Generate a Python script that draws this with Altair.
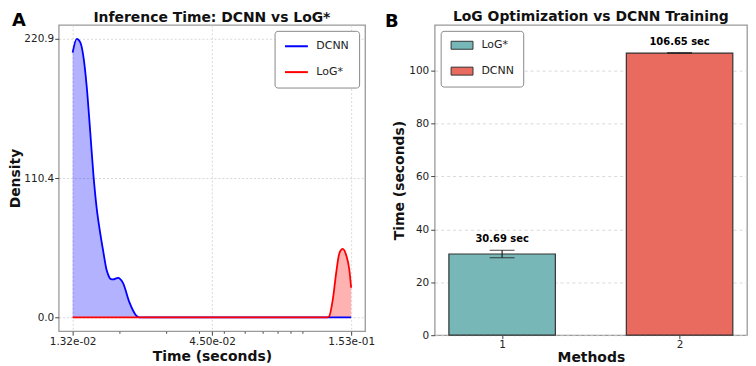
import altair as alt
import pandas as pd

FONT = "DejaVu Sans"

# ---------------- Panel A: density curves
series_names = ["DCNN", "LoG*"]
series_colors = ["#0000ff", "#ff0000"]

dcnn_time = [0.01320, 0.01368, 0.01412, 0.01453, 0.01495, 0.01540, 0.01585,
             0.01630, 0.01679, 0.01728, 0.01778, 0.01804, 0.01841, 0.01884,
             0.01967, 0.02055, 0.02178, 0.02305, 0.02374, 0.15300]
dcnn_density = [209.9, 220.9, 218.0, 206.0, 182.5, 148.0, 113.0,
                87.0, 68.0, 52.3, 37.9, 33.9, 30.5, 30.0,
                31.3, 27.3, 11.6, 1.6, 0.0, 0.0]

log_time = [0.01320, 0.12400, 0.12580, 0.13020, 0.13410, 0.13800, 0.14200,
            0.14620, 0.15050, 0.15300]
log_density = [0.0, 0.0, 0.5, 14.2, 35.3, 51.0, 54.2, 49.7, 37.9, 23.4]

x_major_A = [0.0132, 0.045, 0.153]
x_minor_A = [0.02, 0.03, 0.04, 0.05, 0.06, 0.07, 0.08, 0.09, 0.1]
y_ticks_A = [0.0, 110.4, 220.9]

# ---------------- Panel B: training time bars
methods = ["LoG*", "DCNN"]
positions = [1, 2]
times = [30.69, 106.65]
errors = [1.4, 0.15]
bar_labels = ["30.69 sec", "106.65 sec"]
bar_colors = ["#78b7b7", "#e96b5f"]
y_ticks_B = [0, 20, 40, 60, 80, 100]
x_ticks_B = [1, 2]

panel_letters = ["A", "B"]
titles = ["Inference Time: DCNN vs LoG*", "LoG Optimization vs DCNN Training"]

WA, HA = 308, 308
WB, HB = 314, 312

# ================= Panel A
left_df = pd.concat([
    pd.DataFrame({"time": dcnn_time, "density": dcnn_density, "series": series_names[0]}),
    pd.DataFrame({"time": log_time, "density": log_density, "series": series_names[1]}),
], ignore_index=True)

major_list = "[" + ",".join(repr(v) for v in x_major_A) + "]"
is_major = f"indexof({major_list}, datum.value) >= 0"

color_A = alt.Scale(domain=series_names, range=series_colors)

xA = alt.X(
    "time:Q",
    scale=alt.Scale(type="log", domain=[0.01168, 0.1729], nice=False),
    axis=alt.Axis(
        values=x_major_A + x_minor_A,
        labelExpr=f"{is_major} ? replace(format(datum.value, '.2e'), 'e-', 'e-0') : ''",
        tickSize={"condition": {"test": is_major, "value": 4}, "value": 2},
        gridOpacity={"condition": {"test": is_major, "value": 1}, "value": 0},
        title="Time (seconds)",
        labelPadding=1,
        titlePadding=3,
    ),
)
yA = alt.Y(
    "density:Q",
    stack=None,
    scale=alt.Scale(domain=[-11.05, 231.95], nice=False, zero=False),
    axis=alt.Axis(values=y_ticks_A, format=".1f", title="Density",
                  tickSize=4, labelPadding=1, titlePadding=1),
)

baseA = alt.Chart(left_df)
areasA = [
    baseA.transform_filter(alt.datum.series == name).mark_area(
        opacity=0.3, interpolate="monotone", color=col
    ).encode(x=xA, y=yA, y2=alt.datum(0))
    for name, col in zip(series_names, series_colors)
]
linesA = baseA.mark_line(strokeWidth=1.8, interpolate="monotone").encode(
    x=xA, y=yA,
    color=alt.Color(
        "series:N", scale=color_A,
        legend=alt.Legend(
            title=None, orient="top-right", offset=6, padding=10,
            strokeColor="#888888", cornerRadius=3, fillColor="white",
            symbolType="M-2.5,0H9", symbolSize=16, symbolStrokeWidth=2,
            labelOffset=21, rowPadding=14, labelFontSize=11,
        ),
    ),
)
letterA = alt.Chart(pd.DataFrame({"t": [panel_letters[0]]})).mark_text(
    font=FONT, fontSize=18, fontWeight="bold", align="left", baseline="top", color="#000"
).encode(text="t:N", x=alt.value(-47), y=alt.value(-13))
titleA = alt.Chart(pd.DataFrame({"t": [titles[0]]})).mark_text(
    font=FONT, fontSize=14, fontWeight="bold", align="center", baseline="alphabetic", color="#111"
).encode(text="t:N", x=alt.value(WA / 2), y=alt.value(-3))

left = alt.layer(*areasA, linesA, letterA, titleA).properties(width=WA, height=HA)

# ================= Panel B
bar_df = pd.DataFrame({
    "method": methods, "pos": positions, "time": times,
    "err": errors, "label": bar_labels,
})

xs = alt.Scale(domain=[0.62, 2.38], nice=False, zero=False)
ys = alt.Scale(domain=[0, 117.3], nice=False)
x_axis_B = alt.Axis(values=x_ticks_B, format="d", grid=False, title="Methods",
                    tickSize=3.5, labelPadding=1, titlePadding=0)
y_axis_B = alt.Axis(values=y_ticks_B, format="d", title="Time (seconds)",
                    tickSize=4, labelPadding=2, titlePadding=2, gridDash=[3, 3])

baseB = alt.Chart(bar_df).transform_calculate(
    lo="datum.pos - 0.3", hi="datum.pos + 0.3",
    top="datum.time + datum.err", bottom="datum.time - datum.err",
)
bars = baseB.mark_bar(stroke="#333333", strokeWidth=1.2, opacity=1).encode(
    x=alt.X("lo:Q", scale=xs, axis=x_axis_B),
    x2="hi:Q",
    y=alt.Y("time:Q", scale=ys, axis=y_axis_B),
    y2=alt.datum(0),
    color=alt.Color(
        "method:N", scale=alt.Scale(domain=methods, range=bar_colors),
        legend=alt.Legend(
            title=None, orient="top-left", offset=6, padding=9,
            strokeColor="#888888", cornerRadius=3, fillColor="white",
            symbolType="M-1,-1H4.5V1H-1Z", symbolSize=64,
            symbolStrokeColor="#333333", symbolStrokeWidth=1, symbolOpacity=1,
            labelOffset=21, rowPadding=13, labelFontSize=11,
        ),
    ),
)
err_rule = baseB.mark_rule(color="#222222", strokeWidth=1.2).encode(
    x=alt.X("pos:Q", scale=xs, axis=x_axis_B),
    y=alt.Y("bottom:Q", scale=ys, axis=y_axis_B), y2="top:Q",
)
cap_top = baseB.mark_tick(orient="horizontal", size=25, thickness=1.2, color="#222222").encode(
    x=alt.X("pos:Q", scale=xs, axis=x_axis_B),
    y=alt.Y("top:Q", scale=ys, axis=y_axis_B),
)
cap_bottom = baseB.mark_tick(orient="horizontal", size=25, thickness=1.2, color="#222222").encode(
    x=alt.X("pos:Q", scale=xs, axis=x_axis_B),
    y=alt.Y("bottom:Q", scale=ys, axis=y_axis_B),
)
bar_text = baseB.mark_text(
    font=FONT, fontSize=10, fontWeight="bold", baseline="bottom", dy=-6, color="#000"
).encode(
    x=alt.X("pos:Q", scale=xs, axis=x_axis_B),
    y=alt.Y("top:Q", scale=ys, axis=y_axis_B),
    text="label:N",
)
letterB = alt.Chart(pd.DataFrame({"t": [panel_letters[1]]})).mark_text(
    font=FONT, fontSize=18, fontWeight="bold", align="left", baseline="top", color="#000"
).encode(text="t:N", x=alt.value(-50), y=alt.value(-12))
titleB = alt.Chart(pd.DataFrame({"t": [titles[1]]})).mark_text(
    font=FONT, fontSize=14, fontWeight="bold", align="center", baseline="alphabetic", color="#111"
).encode(text="t:N", x=alt.value(WB / 2), y=alt.value(-4))

right = alt.layer(bars, err_rule, cap_top, cap_bottom, bar_text, letterB, titleB).properties(
    width=WB, height=HB
)

chart = alt.hconcat(left, right, spacing=8).resolve_scale(color="independent").properties(
    padding=0
).configure_view(
    stroke="#999999", strokeWidth=1.3
).configure_axis(
    labelFont=FONT, titleFont=FONT, labelFontSize=10.5, titleFontSize=14,
    titleFontWeight="bold", labelColor="#222222", titleColor="#111111",
    tickColor="#444444", domain=False, gridColor="#cfcfcf", gridDash=[2, 2],
    gridWidth=0.8,
).configure_legend(
    labelFont=FONT, labelColor="#222222"
)

chart.save("out.html", embed_options={"renderer": "svg", "actions": False})
